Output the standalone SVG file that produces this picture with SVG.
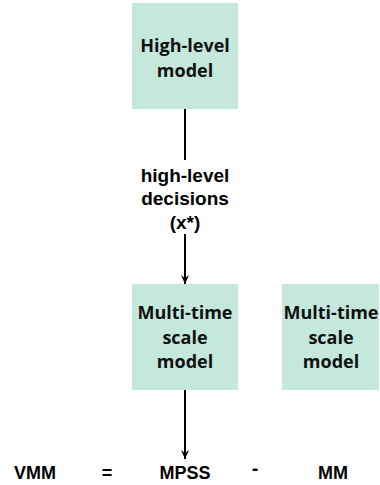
<svg xmlns="http://www.w3.org/2000/svg" width="380" height="485" viewBox="0 0 380 485">
<defs>
<marker id="ah" viewBox="0 0 10 10" refX="10" refY="5" markerWidth="9" markerHeight="9" markerUnits="userSpaceOnUse" orient="auto">
<path d="M0,0.5 L10,5 L0,9.5 L3.5,5 Z" fill="#000"/>
</marker>
<style>
.box{fill:#c5e8dd}
.bt{font-family:"Open Sans","Noto Sans",sans-serif;font-weight:700;font-size:18px;fill:#111;text-anchor:middle}
.lt{font-family:"Liberation Sans",Arial,sans-serif;font-weight:700;font-size:19px;fill:#000;text-anchor:middle}
.eq{font-family:"Liberation Sans",Arial,sans-serif;font-weight:700;font-size:18px;fill:#000;text-anchor:middle}
.ln{stroke:#000;stroke-width:2;fill:none}
</style>
</defs>
<rect width="380" height="485" fill="#fff"/>
<g id="high-level-model">
<rect class="box" x="132" y="3" width="106" height="106"/>
<text class="bt" x="185" y="52">High-level</text>
<text class="bt" x="185" y="77">model</text>
</g>
<g id="mts-model-1">
<rect class="box" x="132" y="284" width="106" height="106"/>
<text class="bt" x="185" y="319">Multi-time</text>
<text class="bt" x="185" y="344">scale</text>
<text class="bt" x="185" y="368">model</text>
</g>
<g id="mts-model-2">
<rect class="box" x="282" y="284" width="97" height="106"/>
<text class="bt" x="331" y="319">Multi-time</text>
<text class="bt" x="331" y="344">scale</text>
<text class="bt" x="331" y="368">model</text>
</g>
<g id="decision-label">
<text class="lt" x="185" y="182">high-level</text>
<text class="lt" x="185" y="205">decisions</text>
<text class="lt" x="185" y="229">(x*)</text>
</g>
<g id="equation">
<text class="eq" x="35" y="479">VMM</text>
<text class="eq" x="107" y="479">=</text>
<text class="eq" x="185" y="479">MPSS</text>
<text class="eq" x="255" y="475" style="font-size:20px">-</text>
<text class="eq" x="333" y="479">MM</text>
</g>
<g id="connectors">
<line class="ln" x1="185" y1="109" x2="185" y2="160"/>
<line class="ln" x1="185" y1="234" x2="185" y2="284" marker-end="url(#ah)"/>
<line class="ln" x1="185" y1="390" x2="185" y2="459" marker-end="url(#ah)"/>
</g>
</svg>
